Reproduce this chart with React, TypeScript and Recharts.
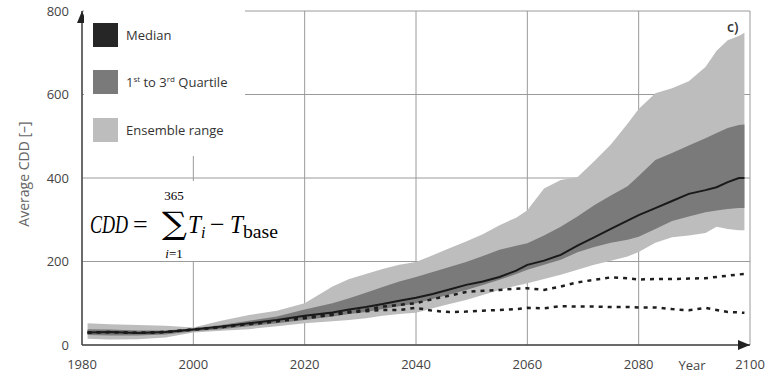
import {
  ComposedChart,
  Area,
  Line,
  XAxis,
  YAxis,
  CartesianGrid,
  ReferenceDot,
  Legend,
} from "recharts";

const years = [
  1981, 1985, 1990, 1995, 2000, 2005, 2010, 2015, 2020, 2025, 2028, 2031, 2034,
  2037, 2040, 2043, 2046, 2049, 2052, 2055, 2058, 2060, 2063, 2066, 2069, 2072,
  2075, 2078, 2080, 2083, 2086, 2089, 2092, 2094, 2096, 2098, 2099,
];

const ensembleLow = [
  15, 13, 14, 18, 30, 34, 38, 45, 52, 57, 60, 64, 70, 74, 77, 88, 98, 108, 120,
  132, 142, 148, 158, 168, 180, 192, 202, 212, 223, 245, 258, 262, 268, 283,
  278, 275, 275,
];
const ensembleHigh = [
  52, 50, 48, 46, 42, 58, 72, 82, 100, 140, 158, 170, 182, 192, 199, 215, 232,
  248, 265, 287, 305, 323, 375, 395, 402, 440, 480, 530, 565, 603, 615, 632,
  666, 705, 730, 740, 748,
];
const quartileLow = [
  24, 23, 23, 25, 33, 38, 45, 52, 60, 68, 74, 79, 86, 93, 100, 110, 121, 132,
  144, 156, 170, 180, 192, 204, 222, 235, 245, 252, 259, 278, 297, 308, 318,
  322, 326, 328, 328,
];
const quartileHigh = [
  38, 37, 35, 35, 40, 48, 58, 68, 85, 100, 112, 125, 139, 152, 163, 175, 187,
  199, 213, 228, 238, 244, 262, 283, 308, 335, 358, 380, 405, 443, 460, 478,
  495, 508, 520, 527, 528,
];
const median = [
  30, 31, 29, 31, 37, 44, 52, 60, 70, 78, 85, 91, 98, 106, 113, 122, 133, 144,
  152, 163, 178, 192, 202, 216, 238, 258, 278, 298, 311, 328, 345, 362, 371,
  378, 390, 400, 400,
];
const dashedUpper = [
  30, 31, 29, 31, 37, 43, 50, 57, 66, 74, 80, 84, 92, 96, 100, 110, 118, 127,
  130, 132, 135, 136, 132, 140, 150, 156, 162, 160, 157, 158, 158, 159, 160,
  163, 166, 169, 170,
];
const dashedLower = [
  30, 31, 29, 31, 37, 43, 50, 57, 64, 72, 78, 81, 84, 84, 89, 82, 79, 80, 82,
  84, 86, 89, 88, 93, 92, 92, 91, 91, 90, 90, 86, 83, 89, 84, 79, 78, 77,
];

const xTicks = [1980, 2000, 2020, 2040, 2060, 2080, 2100];
const yTicks = [0, 200, 400, 600, 800];

const legendItems = [
  { key: "median", color: "#262626", label: <>Median</> },
  {
    key: "quart",
    color: "#7a7a7a",
    label: (
      <>
        1<sup style={{ fontSize: 8 }}>st</sup> to 3
        <sup style={{ fontSize: 8 }}>rd</sup> Quartile
      </>
    ),
  },
  { key: "ens", color: "#bdbdbd", label: <>Ensemble range</> },
];

const data = years.map((year, i) => ({
  year,
  ens: [ensembleLow[i], ensembleHigh[i]],
  quart: [quartileLow[i], quartileHigh[i]],
  median: median[i],
  dashA: dashedUpper[i],
  dashB: dashedLower[i],
}));

const FONT = "'Open Sans', sans-serif";
const AXIS = "#4a4a4a";

function LegendBox() {
  return (
    <div style={{ background: "#fff", width: 152, padding: "3px 0 2px 9px" }}>
      {legendItems.map((it) => (
        <div
          key={it.key}
          style={{ display: "flex", alignItems: "center", height: 47.5 }}
        >
          <div
            style={{
              width: 25,
              height: 24,
              background: it.color,
              marginRight: 8,
            }}
          />
          <span style={{ fontSize: 13, color: "#333", fontFamily: FONT }}>
            {it.label}
          </span>
        </div>
      ))}
    </div>
  );
}

const upArrow = (p: any) => (
  <path
    d={`M${p.cx},${p.cy} L${p.cx - 5},${p.cy + 12} L${p.cx + 5},${p.cy + 12} Z`}
    fill="#222"
  />
);
const rightArrow = (p: any) => (
  <path
    d={`M${p.cx},${p.cy} L${p.cx - 12},${p.cy - 5} L${p.cx - 12},${p.cy + 5} Z`}
    fill="#222"
  />
);

// CDD = sum_{i=1}^{365} T_i - T_base, drawn as a small boxed text block
function Formula() {
  const serif = "'Liberation Serif', 'DejaVu Serif', serif";
  return (
    <svg
      width={200}
      height={80}
      style={{ position: "absolute", left: 88, top: 181 }}
    >
      <rect width={200} height={80} fill="#fff" />
      <g fontFamily={serif} fill="#000">
        <text
          x={2}
          y={52}
          fontSize={26}
          fontStyle="italic"
          textLength={38}
          lengthAdjust="spacingAndGlyphs"
        >
          CDD
        </text>
        <text x={45} y={52} fontSize={26}>
          =
        </text>
        <text x={86} y={19} fontSize={13} textAnchor="middle">
          365
        </text>
        <text
          x={74}
          y={53}
          fontSize={31}
          textLength={25}
          lengthAdjust="spacingAndGlyphs"
          fontFamily="'DejaVu Serif', serif"
        >
          ∑
        </text>
        <text x={86} y={77} fontSize={13} textAnchor="middle">
          <tspan fontStyle="italic">i</tspan>=1
        </text>
        <text
          x={100}
          y={52}
          fontSize={26}
          fontStyle="italic"
          textLength={13}
          lengthAdjust="spacingAndGlyphs"
        >
          T
        </text>
        <text x={113} y={57} fontSize={16} fontStyle="italic">
          i
        </text>
        <text x={122} y={52} fontSize={26}>
          −
        </text>
        <text
          x={142}
          y={52}
          fontSize={26}
          fontStyle="italic"
          textLength={13}
          lengthAdjust="spacingAndGlyphs"
        >
          T
        </text>
        <text
          x={155}
          y={57}
          fontSize={18}
          textLength={35}
          lengthAdjust="spacingAndGlyphs"
        >
          base
        </text>
      </g>
    </svg>
  );
}

export default function App() {
  return (
    <div
      style={{
        position: "absolute",
        left: 0,
        top: 0,
        width: 765,
        height: 372,
        background: "#fff",
        fontFamily: FONT,
      }}
    >
      <ComposedChart
        width={765}
        height={372}
        data={data}
        margin={{ top: 11, right: 15, bottom: 5, left: 12 }}
      >
        <CartesianGrid stroke="#9a9a9a" strokeWidth={1} />
        <Area
          dataKey="ens"
          type="linear"
          stroke="none"
          fill="#bdbdbd"
          fillOpacity={1}
          isAnimationActive={false}
        />
        <Area
          dataKey="quart"
          type="linear"
          stroke="none"
          fill="#7a7a7a"
          fillOpacity={1}
          isAnimationActive={false}
        />
        <Line
          dataKey="dashA"
          type="linear"
          stroke="#1e1e1e"
          strokeWidth={2.5}
          strokeDasharray="4 5"
          dot={false}
          isAnimationActive={false}
        />
        <Line
          dataKey="dashB"
          type="linear"
          stroke="#1e1e1e"
          strokeWidth={2.5}
          strokeDasharray="4 5"
          dot={false}
          isAnimationActive={false}
        />
        <Line
          dataKey="median"
          type="linear"
          stroke="#1a1a1a"
          strokeWidth={2}
          dot={false}
          isAnimationActive={false}
        />
        <XAxis
          dataKey="year"
          type="number"
          domain={[1980, 2100]}
          ticks={xTicks}
          height={22}
          tickLine={false}
          tickMargin={9}
          axisLine={{ stroke: AXIS, strokeWidth: 1.5 }}
          tick={{ fill: "#444", fontSize: 13 }}
          label={{
            content: (p: any) => (
              <text
                x={p.viewBox.x + p.viewBox.width - 58}
                y={p.viewBox.y + 25}
                fill="#444"
                fontSize={13}
                textAnchor="middle"
              >
                Year
              </text>
            ),
          }}
        />
        <YAxis
          type="number"
          domain={[0, 800]}
          ticks={yTicks}
          width={70}
          tickLine={false}
          tickMargin={7}
          axisLine={{ stroke: AXIS, strokeWidth: 1.5 }}
          tick={{ fill: "#444", fontSize: 13 }}
          label={{
            content: (p: any) => {
              const x = p.viewBox.x + 11;
              const y = p.viewBox.y + p.viewBox.height / 2 - 4;
              return (
                <text
                  x={x}
                  y={y}
                  transform={`rotate(-90 ${x} ${y})`}
                  fill="#666"
                  fontSize={14}
                  textAnchor="middle"
                  dominantBaseline="central"
                >
                  Average CDD [–]
                </text>
              );
            },
          }}
        />
        <ReferenceDot
          x={1980}
          y={800}
          ifOverflow="visible"
          shape={upArrow}
        />
        <ReferenceDot
          x={2100}
          y={0}
          ifOverflow="visible"
          shape={rightArrow}
        />
        <Legend
          layout="vertical"
          align="center"
          verticalAlign="middle"
          content={() => <LegendBox />}
          wrapperStyle={{ left: 84, top: 8, width: 153 }}
        />
      </ComposedChart>
      <Formula />
      <div
        style={{
          position: "absolute",
          left: 727,
          top: 17,
          fontSize: 14,
          fontWeight: 600,
          color: "#333",
        }}
      >
        c)
      </div>
    </div>
  );
}
